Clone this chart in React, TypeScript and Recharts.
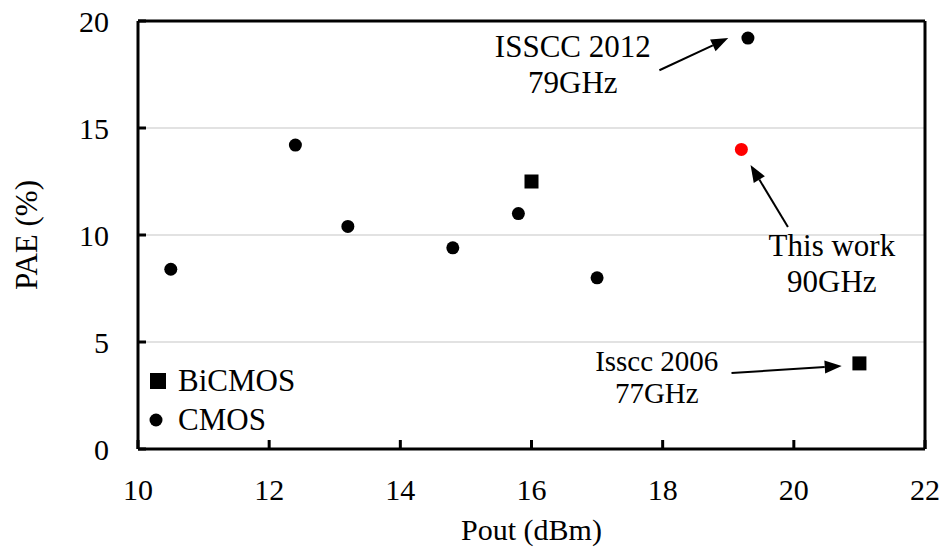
import {
  ScatterChart,
  Scatter,
  XAxis,
  YAxis,
  CartesianGrid,
  ReferenceLine,
  ReferenceDot,
  Legend,
} from 'recharts'

const FONT = '"Liberation Serif", "Times New Roman", serif'

// Pout (dBm) / PAE (%) of the compared power amplifiers
const cmosPout = [10.5, 12.4, 13.2, 14.8, 15.8, 17.0, 19.3]
const cmosPae = [8.4, 14.2, 10.4, 9.4, 11.0, 8.0, 19.2]
const bicmosPout = [16.0, 21.0]
const bicmosPae = [12.5, 4.0]
const thisWorkPout = [19.2]
const thisWorkPae = [14.0]

const xTicks = [10, 12, 14, 16, 18, 20, 22]
const yTicks = [0, 5, 10, 15, 20]

// callout text, anchored at the middle of its two lines
const noteLines = [
  ['ISSCC 2012', '79GHz'],
  ['This work', '90GHz'],
  ['Isscc 2006', '77GHz'],
]
const noteX = [16.63, 20.58, 17.91]
const noteY = [17.94, 8.67, 3.35]

// callout arrows, tail -> head
const arrowFromX = [17.95, 19.91, 19.05]
const arrowFromY = [17.7, 10.37, 3.55]
const arrowToX = [19.0, 19.34, 20.73]
const arrowToY = [19.2, 13.27, 3.88]

const zip = (xs: number[], ys: number[]) => xs.map((x, i) => ({ x, y: ys[i] }))
const cmos = zip(cmosPout, cmosPae)
const bicmos = zip(bicmosPout, bicmosPae)
const thisWork = zip(thisWorkPout, thisWorkPae)

const dot = (color: string) => (p: any) => <circle cx={p.cx} cy={p.cy} r={6.5} fill={color} />
const square = (p: any) => <rect x={p.cx - 7} y={p.cy - 7} width={14} height={14} fill="#000" />

function Arrow(p: any) {
  const { x1, y1, x2, y2 } = p
  const a = Math.atan2(y2 - y1, x2 - x1)
  const len = 17
  const hw = 6.5
  const bx = x2 - len * Math.cos(a)
  const by = y2 - len * Math.sin(a)
  const nx = -Math.sin(a) * hw
  const ny = Math.cos(a) * hw
  return (
    <g>
      <line x1={x1} y1={y1} x2={bx} y2={by} stroke="#000" strokeWidth={2} />
      <polygon points={`${x2},${y2} ${bx + nx},${by + ny} ${bx - nx},${by - ny}`} fill="#000" />
    </g>
  )
}

// plain frame edge, drawn from the reference line's own end points
function Edge(p: any) {
  return <line x1={p.x1} y1={p.y1} x2={p.x2} y2={p.y2} stroke="#000" strokeWidth={3} />
}

const note = (lines: string[], size: number, gap: number) => (p: any) => (
  <text x={p.cx} y={p.cy} textAnchor="middle" fontFamily={FONT} fontSize={size} fill="#000">
    <tspan x={p.cx} dy={-gap / 2 + size * 0.33}>{lines[0]}</tspan>
    <tspan x={p.cx} dy={gap}>{lines[1]}</tspan>
  </text>
)

// tick marks point into the plot, so they are drawn together with the labels
const X_MARGIN = 30
const Y_MARGIN = 29

function XTick(p: any) {
  const axisY = p.y - X_MARGIN
  return (
    <g>
      <line x1={p.x} y1={axisY} x2={p.x} y2={axisY - 9} stroke="#000" strokeWidth={3} />
      <text x={p.x} y={p.y} dy="0.71em" textAnchor="middle" fontFamily={FONT} fontSize={30} fill="#000">
        {p.payload.value}
      </text>
    </g>
  )
}

function YTick(p: any) {
  const axisX = p.x + Y_MARGIN
  return (
    <g>
      <line x1={axisX} y1={p.y} x2={axisX + 8} y2={p.y} stroke="#000" strokeWidth={3} />
      <text x={p.x} y={p.y} dy="0.355em" textAnchor="end" fontFamily={FONT} fontSize={30} fill="#000">
        {p.payload.value}
      </text>
    </g>
  )
}

function LegendBox({ payload }: any) {
  const items = (payload || [])
    .filter((e: any) => e.type !== 'none')
    .sort((a: any, b: any) => (a.type === 'square' ? -1 : b.type === 'square' ? 1 : 0))
  return (
    <div style={{ fontFamily: FONT, fontSize: 31, color: '#000', lineHeight: '39px' }}>
      {items.map((e: any) => (
        <div key={e.value} style={{ display: 'flex', alignItems: 'center' }}>
          <svg width={30} height={16}>
            {e.type === 'square'
              ? <rect x={2} y={0} width={16} height={16} fill="#000" />
              : <circle cx={8} cy={8} r={6.5} fill="#000" />}
          </svg>
          <span>{e.value}</span>
        </div>
      ))}
    </div>
  )
}

export default function App() {
  return (
    <div style={{ position: 'absolute', left: 0, top: 0, background: '#fff' }}>
      <ScatterChart width={945} height={548} margin={{ top: 21, right: 20, bottom: 0, left: 0 }}>
        <CartesianGrid vertical={false} stroke="#d9d9d9" strokeWidth={1.5} />
        <XAxis
          type="number"
          dataKey="x"
          domain={[10, 22]}
          ticks={xTicks}
          interval={0}
          height={99}
          tick={<XTick />}
          tickSize={0}
          tickMargin={X_MARGIN}
          tickLine={false}
          axisLine={{ stroke: '#000', strokeWidth: 3 }}
          label={{
            value: 'Pout (dBm)',
            position: 'insideBottom',
            offset: 8,
            style: { fontFamily: FONT, fontSize: 30, fill: '#000' },
          }}
        />
        <YAxis
          type="number"
          dataKey="y"
          domain={[0, 20]}
          ticks={yTicks}
          interval={0}
          width={138}
          tick={<YTick />}
          tickSize={0}
          tickMargin={Y_MARGIN}
          tickLine={false}
          axisLine={{ stroke: '#000', strokeWidth: 3 }}
          label={{
            value: 'PAE (%)',
            angle: -90,
            position: 'insideLeft',
            offset: 26,
            style: { fontFamily: FONT, fontSize: 31, fill: '#000', textAnchor: 'middle' },
          }}
        />
        {/* closing the frame on the top and right */}
        <ReferenceLine
          segment={[{ x: 10, y: 20 }, { x: 22, y: 20 }]}
          ifOverflow="visible"
          shape={(p: any) => <Edge {...p} />}
        />
        <ReferenceLine
          segment={[{ x: 22, y: 0 }, { x: 22, y: 20 }]}
          ifOverflow="visible"
          shape={(p: any) => <Edge {...p} />}
        />
        <Scatter name="BiCMOS" data={bicmos} legendType="square" shape={square} isAnimationActive={false} />
        <Scatter name="CMOS" data={cmos} legendType="circle" shape={dot('#000')} isAnimationActive={false} />
        <Scatter name="This work" data={thisWork} legendType="none" shape={dot('#ff0000')} isAnimationActive={false} />
        {arrowFromX.map((x, i) => (
          <ReferenceLine
            key={`arrow-${i}`}
            segment={[{ x, y: arrowFromY[i] }, { x: arrowToX[i], y: arrowToY[i] }]}
            shape={(p: any) => <Arrow {...p} />}
          />
        ))}
        {noteLines.map((lines, i) => (
          <ReferenceDot
            key={`note-${i}`}
            x={noteX[i]}
            y={noteY[i]}
            r={0}
            shape={note(lines, i === 2 ? 29 : 31, i === 2 ? 32 : 36)}
          />
        ))}
        <Legend
          layout="vertical"
          align="center"
          verticalAlign="middle"
          wrapperStyle={{ left: 148, top: 361, width: 'auto', height: 'auto' }}
          content={<LegendBox />}
        />
      </ScatterChart>
    </div>
  )
}
